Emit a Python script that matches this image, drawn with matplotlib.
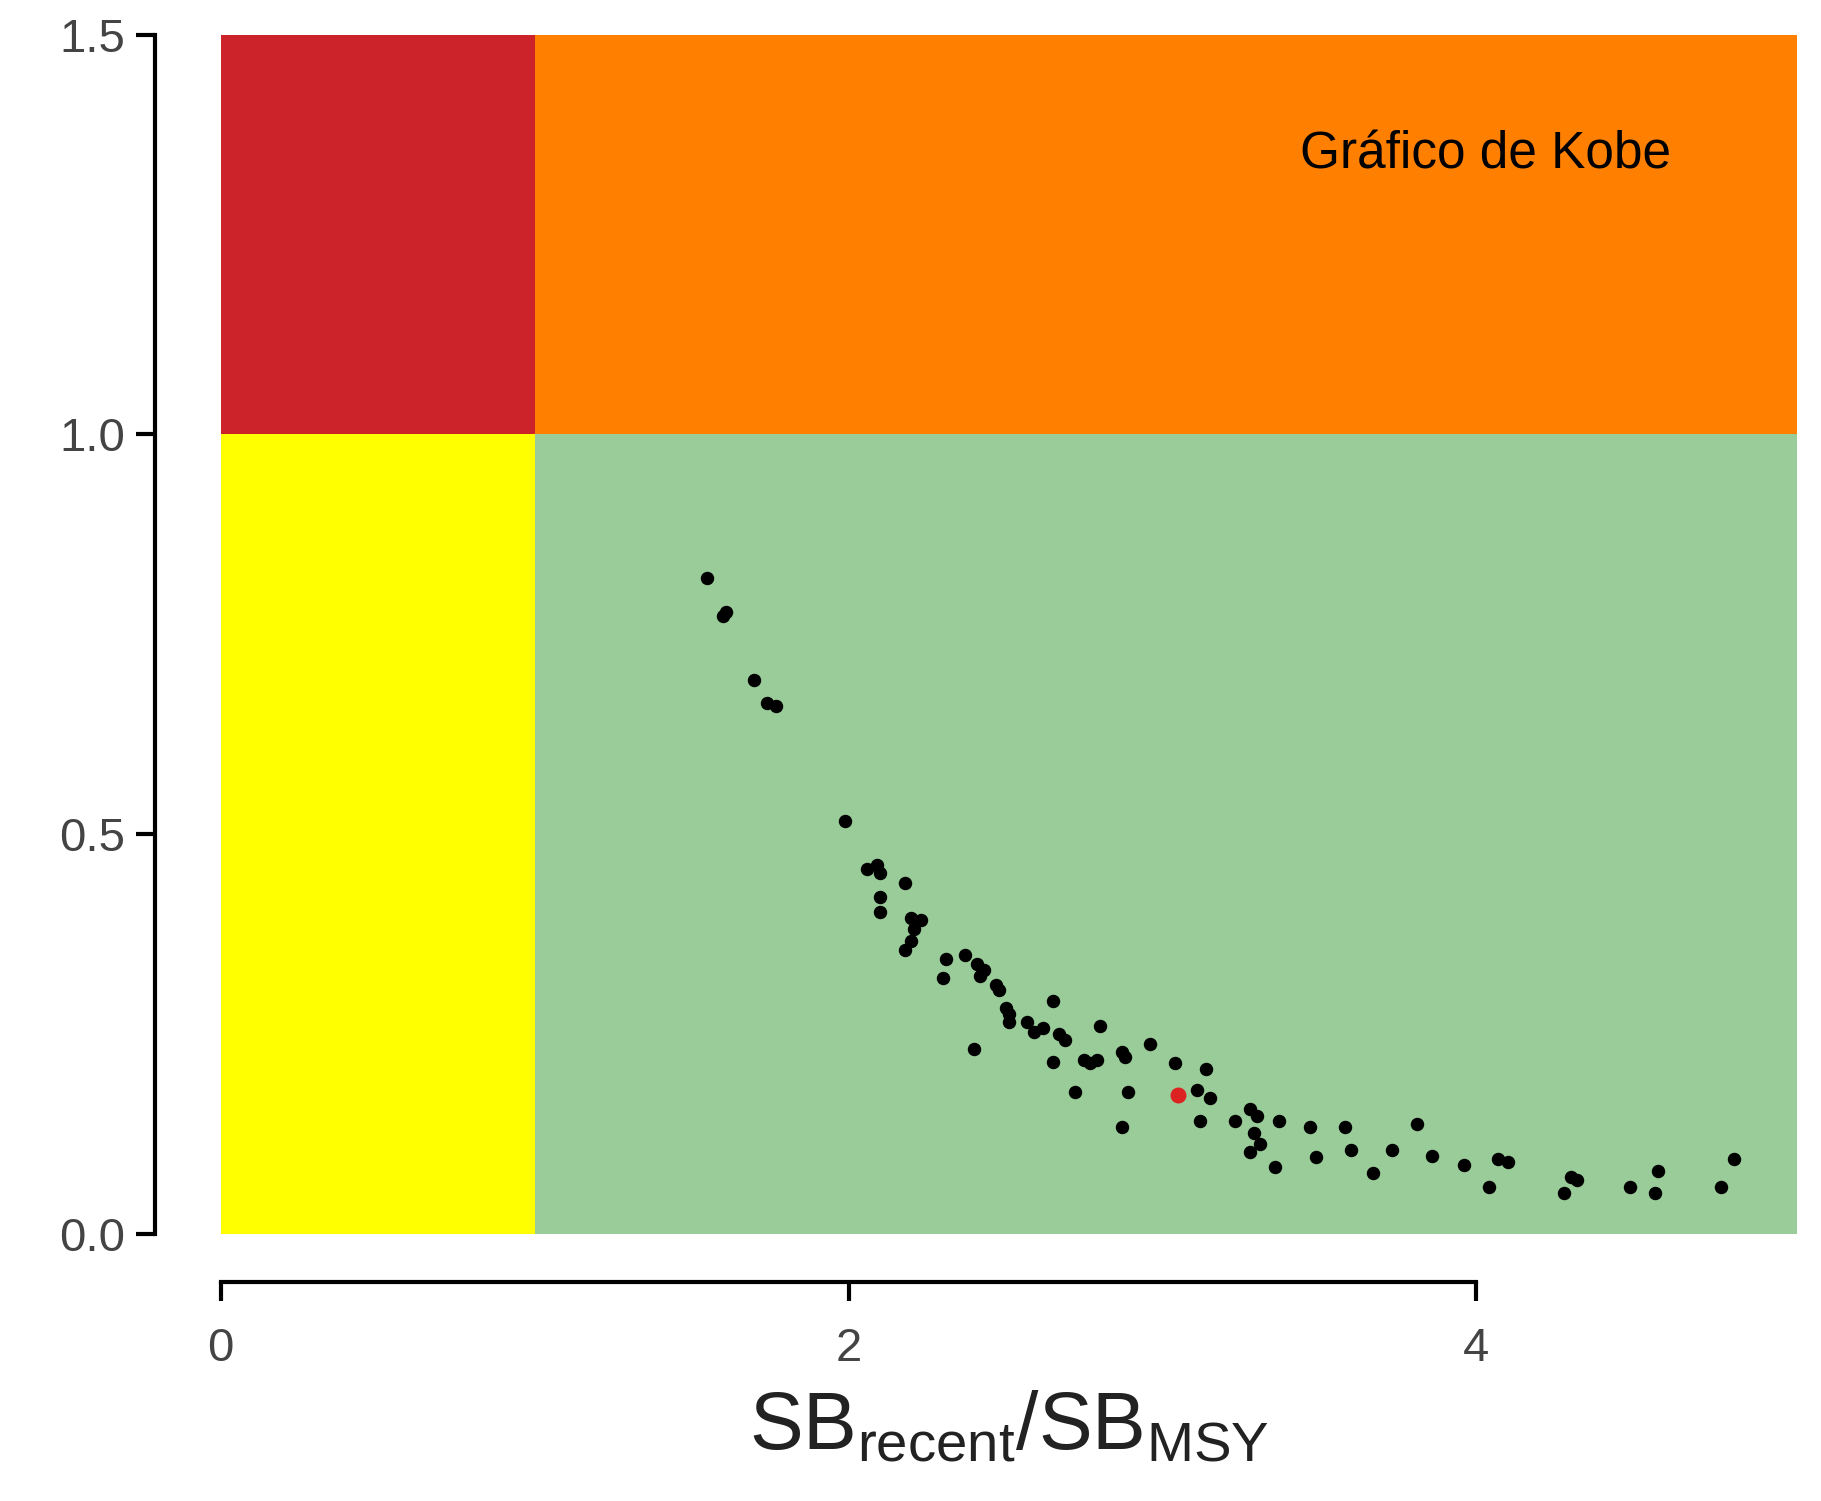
import numpy as np
import matplotlib.pyplot as plt

# ── Data ──
sb_ratio = [1.55, 1.60, 1.61, 1.70, 1.74, 1.77, 1.99, 2.06, 2.09, 2.10, 2.10, 2.10,
            2.18, 2.20, 2.23, 2.21, 2.18, 2.20, 2.30, 2.31, 2.37, 2.41, 2.42, 2.43,
            2.47, 2.48, 2.50, 2.51, 2.51, 2.40, 2.57, 2.59, 2.62, 2.65, 2.67, 2.69,
            2.65, 2.75, 2.77, 2.79, 2.80, 2.72, 2.87, 2.88, 2.89, 2.87, 2.96, 3.04,
            3.11, 3.14, 3.15, 3.12, 3.23, 3.28, 3.30, 3.29, 3.31, 3.28, 3.36, 3.37,
            3.47, 3.49, 3.58, 3.60, 3.67, 3.73, 3.81, 3.86, 3.96, 4.04, 4.07, 4.10,
            4.28, 4.30, 4.32, 4.49, 4.57, 4.58, 4.78, 4.82]
f_ratio = [0.821, 0.773, 0.778, 0.693, 0.664, 0.660, 0.516, 0.456, 0.461, 0.451, 0.421, 0.403,
           0.439, 0.395, 0.392, 0.381, 0.355, 0.366, 0.320, 0.344, 0.349, 0.337, 0.323, 0.330,
           0.311, 0.305, 0.282, 0.265, 0.275, 0.231, 0.265, 0.253, 0.257, 0.291, 0.250, 0.243,
           0.215, 0.217, 0.214, 0.218, 0.260, 0.177, 0.228, 0.221, 0.177, 0.134, 0.238, 0.214,
           0.180, 0.206, 0.170, 0.141, 0.141, 0.156, 0.148, 0.126, 0.112, 0.102, 0.084, 0.141,
           0.134, 0.096, 0.134, 0.105, 0.076, 0.105, 0.137, 0.097, 0.086, 0.058, 0.093, 0.090,
           0.051, 0.071, 0.067, 0.058, 0.051, 0.078, 0.058, 0.093]
recent_point = (3.05, 0.174)

x_max = 5.02
y_max = 1.5
x_ticks = [0, 2, 4]
y_ticks = [0.0, 0.5, 1.0, 1.5]

plt.rcParams['font.family'] = 'Liberation Sans'
plt.rcParams['mathtext.fontset'] = 'custom'
plt.rcParams['mathtext.rm'] = 'Liberation Sans'

fig = plt.figure(figsize=(18.21, 15.01), dpi=100)
ax = fig.add_axes([0.1212, 0.178, 0.8654, 0.7988])

# ── Kobe quadrants ──
ax.fill_between([0, 1], 1, y_max, color="#cc2229", lw=0)
ax.fill_between([1, x_max], 1, y_max, color="#ff8000", lw=0)
ax.fill_between([0, 1], 0, 1, color="#ffff00", lw=0)
ax.fill_between([1, x_max], 0, 1, color="#99cc99", lw=0)

ax.scatter(sb_ratio, f_ratio, s=75, color="black", zorder=3)
ax.scatter([recent_point[0]], [recent_point[1]], s=110, color="#dd2222", zorder=4)

ax.text(4.03, 1.35, "Gráfico de Kobe", fontsize=37, ha="center", va="center")

ax.set_xlim(0, x_max)
ax.set_ylim(0, y_max)

# ── R-style detached axes ──
for s in ["top", "right"]:
    ax.spines[s].set_visible(False)
ax.spines["left"].set_position(("outward", 47))
ax.spines["bottom"].set_position(("outward", 35))
ax.spines["left"].set_bounds(0, 1.5)
ax.spines["bottom"].set_bounds(0, 4)
ax.spines["left"].set_linewidth(3)
ax.spines["bottom"].set_linewidth(3)
ax.set_xticks(x_ticks)
ax.set_yticks(y_ticks)
ax.set_yticklabels(["0.0", "0.5", "1.0", "1.5"])
ax.tick_params(width=3, length=14, labelsize=34, labelcolor="#444444")
ax.tick_params(axis="x", pad=18)
ax.tick_params(axis="y", pad=8)

ax.set_xlabel(r"$\mathrm{SB_{recent}/SB_{MSY}}$", fontsize=58, color="#222222", labelpad=14)

fig.savefig("out.png", dpi=100)
